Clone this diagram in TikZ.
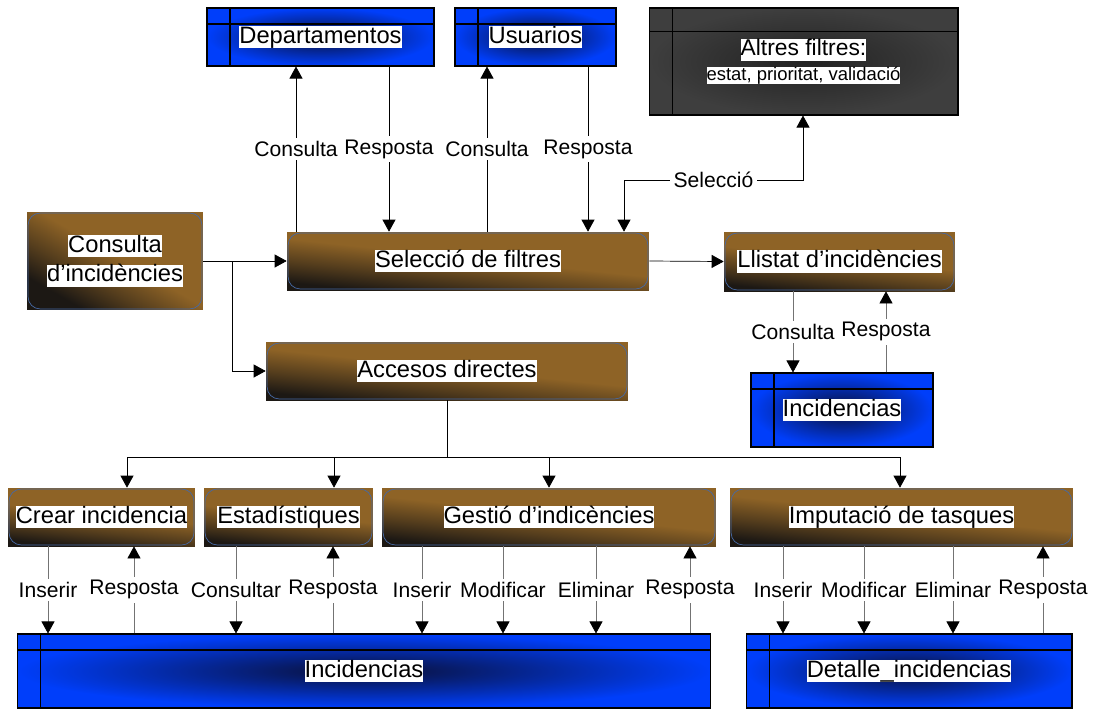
\documentclass[tikz,border=0pt]{standalone}
\usepackage{fontspec}
\setmainfont{Liberation Sans}
\usepackage{tikz}
\usetikzlibrary{arrows.meta}

\definecolor{brlight}{RGB}{142,99,38}
\definecolor{brdark}{RGB}{28,24,20}
\definecolor{stblue}{RGB}{0,62,250}
\definecolor{stdark}{RGB}{10,16,55}
\definecolor{grout}{RGB}{62,62,62}
\definecolor{grin}{RGB}{34,34,34}
\definecolor{edgeblue}{RGB}{70,105,165}

\pgfdeclareverticalshading{brshade}{100bp}{color(0bp)=(brdark); color(27bp)=(brdark);
	color(39bp)=(brdark!50!brlight); color(52bp)=(brlight); color(100bp)=(brlight)}

\newcommand{\hl}[1]{{\setlength{\fboxsep}{0pt}\colorbox{white}{\rule[-0.22em]{0pt}{0.95em}#1}}}
\newcommand{\boxfont}{\fontsize{13.5}{17}\selectfont}
\newcommand{\lblfont}{\fontsize{12}{14}\selectfont}

\begin{document}
\begin{tikzpicture}[x=0.02cm, y=-0.02cm,
	>={Triangle[width=0.26cm, length=0.24cm, color=black]},
	proc/.style={inner sep=0pt, align=center, font=\boxfont,
		shade, shading=brshade, shading angle=-6,
		path picture={\draw[edgeblue, rounded corners=0.24cm]
			([shift={(0.6pt,-0.6pt)}]path picture bounding box.north west) rectangle
			([shift={(-0.6pt,0.6pt)}]path picture bounding box.south east);}},
	store/.style={draw=black, line width=0.6pt, inner sep=0pt, align=center, font=\boxfont,
		inner color=stdark, outer color=stblue,
		path picture={
			\draw ([xshift=0.46cm]path picture bounding box.north west) -- ([xshift=0.46cm]path picture bounding box.south west);
			\draw ([yshift=-#1]path picture bounding box.north west) -- ([yshift=-#1]path picture bounding box.north east);}},
	store/.default=0.32cm,
	flow/.style={->, black},
	flowg/.style={->, draw=black!55},
	lbl/.style={fill=white, inner sep=2pt, font=\lblfont}]
	\useasboundingbox (0,0) rectangle (1093,708);

	% data stores
	\node at (320.5,37) (dep) [store, minimum width=4.54cm, minimum height=1.16cm] {\hl{Departamentos}};
	\node at (535.5,37) (usu) [store, minimum width=3.22cm, minimum height=1.16cm] {\hl{Usuarios}};
	\node at (803.5,61.5) (alt) [store=0.47cm, inner color=grin, outer color=grout, minimum width=6.18cm, minimum height=2.14cm, font=\fontsize{13}{15}\selectfont]
		{\hl{Altres filtres:}\\[-1pt]{\fontsize{10.5}{12}\selectfont\hl{estat, prioritat, validació}}};
	\node at (842,410) (inc) [store, minimum width=3.64cm, minimum height=1.48cm] {\hl{Incidencias}};
	\node at (364,671) (incb) [store, minimum width=13.88cm, minimum height=1.48cm] {\hl{Incidencias}};
	\node at (909,671) (det) [store, minimum width=6.52cm, minimum height=1.48cm] {\hl{Detalle\_incidencias}};

	% processes
	\node at (115,261) (cons) [proc, minimum width=3.52cm, minimum height=1.96cm, shading angle=-30] {\hl{Consulta}\\\hl{d’incidències}};
	\node at (468,261) (sel) [proc, minimum width=7.24cm, minimum height=1.16cm] {\hl{Selecció de filtres}};
	\node at (839.5,261.5) (llis) [proc, minimum width=4.62cm, minimum height=1.18cm] {\hl{Llistat d’incidències}};
	\node at (447,371) (acc) [proc, minimum width=7.24cm, minimum height=1.16cm] {\hl{Accesos directes}};
	\node at (101.5,517) (crear) [proc, minimum width=3.74cm, minimum height=1.16cm] {\hl{Crear incidencia}};
	\node at (288.5,517) (est) [proc, minimum width=3.38cm, minimum height=1.16cm] {\hl{Estadístiques}};
	\node at (549,517) (ges) [proc, minimum width=6.68cm, minimum height=1.16cm] {\hl{Gestió d’indicències}};
	\node at (901.5,517) (imp) [proc, minimum width=6.86cm, minimum height=1.16cm] {\hl{Imputació de tasques}};

	\coordinate (jc) at (232,261);
	\coordinate (split) at (447,457);

	% top
	\draw[flow] (sel.north -| 296,0) -- node[lbl] {Consulta} (dep.south -| 296,0);
	\draw[flow] (dep.south -| 389,0) -- node[lbl] {Resposta} (sel.north -| 389,0);
	\draw[flow] (sel.north -| 487,0) -- node[lbl] {Consulta} (usu.south -| 487,0);
	\draw[flow] (usu.south -| 588,0) -- node[lbl] {Resposta} (sel.north -| 588,0);
	\draw[<->, black] (alt.south -| 803,0) |- node[lbl, pos=0.75] {Selecció} (624,180) -- (sel.north -| 624,0);

	% middle
	\draw[flow] (cons.east) -- (sel.west);
	\draw[flow] (jc) |- (acc.west);
	\draw[flow] (sel.east) -- (llis.west);
	\draw[flowg] (llis.south -| 793,0) -- node[lbl] {Consulta} (inc.north -| 793,0);
	\draw[flowg] (inc.north -| 886,0) -- node[lbl] {Resposta} (llis.south -| 886,0);

	% accesos directes
	\draw (acc.south) -- (split);
	\draw[flow] (split) -| (crear.north -| 127,0);
	\draw[flow] (split) -| (est.north -| 334,0);
	\draw[flow] (split) -| (ges.north -| 549,0);
	\draw[flow] (split) -| (imp.north -| 900,0);

	% bottom
	\draw[flowg] (crear.south -| 48,0) -- node[lbl] {Inserir} (incb.north -| 48,0);
	\draw[flowg] (incb.north -| 134,0) -- node[lbl] {Resposta} (crear.south -| 134,0);
	\draw[flowg] (est.south -| 236,0) -- node[lbl] {Consultar} (incb.north -| 236,0);
	\draw[flowg] (incb.north -| 333,0) -- node[lbl] {Resposta} (est.south -| 333,0);
	\draw[flowg] (ges.south -| 422,0) -- node[lbl] {Inserir} (incb.north -| 422,0);
	\draw[flowg] (ges.south -| 503,0) -- node[lbl] {Modificar} (incb.north -| 503,0);
	\draw[flowg] (ges.south -| 596,0) -- node[lbl] {Eliminar} (incb.north -| 596,0);
	\draw[flowg] (incb.north -| 690,0) -- node[lbl] {Resposta} (ges.south -| 690,0);
	\draw[flowg] (imp.south -| 783,0) -- node[lbl] {Inserir} (det.north -| 783,0);
	\draw[flowg] (imp.south -| 864,0) -- node[lbl] {Modificar} (det.north -| 864,0);
	\draw[flowg] (imp.south -| 953,0) -- node[lbl] {Eliminar} (det.north -| 953,0);
	\draw[flowg] (det.north -| 1043,0) -- node[lbl] {Resposta} (imp.south -| 1043,0);
\end{tikzpicture}
\end{document}
